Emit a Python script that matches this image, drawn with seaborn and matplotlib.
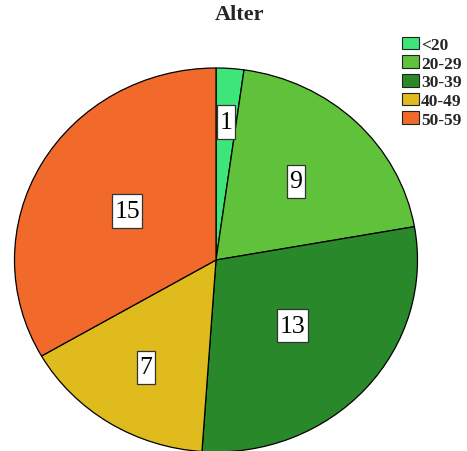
import matplotlib
matplotlib.use("Agg")
import matplotlib.pyplot as plt
import seaborn as sns
import numpy as np
from matplotlib.patches import Patch
from matplotlib.path import Path

sns.set_theme(style="white")
plt.rcParams["font.family"] = ["Liberation Serif", "DejaVu Serif"]

# Age groups and counts
categories = ["<20", "20-29", "30-39", "40-49", "50-59"]
counts = [1, 9, 13, 7, 15]
colors = ["#3ee67a", "#60c23a", "#29892a", "#dfbb1e", "#f2692c"]
# radial placement of each count label (fraction of radius)
label_radius = [0.72, 0.57, 0.51, 0.66, 0.51]

W, H = 467, 452
fig = plt.figure(figsize=(W / 100, H / 100), dpi=100)

# pie area in pixel terms: centre (216, 261), radii 201.5 x 192
cx, cy, rx, ry = 216, 261, 201.5, 192
ax = fig.add_axes([(cx - rx) / W, 1 - (cy + ry) / H, 2 * rx / W, 2 * ry / H])

wedges, _ = ax.pie(
    counts,
    colors=colors,
    startangle=90,
    counterclock=False,
    radius=1,
    wedgeprops=dict(edgecolor="black", linewidth=0.9),
)
ax.set_aspect("auto")
ax.set_xlim(-1, 1)
ax.set_ylim(-1, 1)
ax.axis("off")


def label_box(x0, y0, width, height, mutation_size):
    """Tall rectangle: narrow side padding, fixed height from font size."""
    padx = 0.1 * mutation_size
    h = 1.3 * mutation_size
    ym = y0 + height / 2
    x1, x2 = x0 - padx, x0 + width + padx
    y1, y2 = ym - h / 2, ym + h / 2
    return Path([(x1, y1), (x2, y1), (x2, y2), (x1, y2), (x1, y1)],
                closed=True)


for w, r, n in zip(wedges, label_radius, counts):
    mid = np.deg2rad((w.theta1 + w.theta2) / 2)
    ax.text(
        r * np.cos(mid), r * np.sin(mid), str(n),
        ha="center", va="center", fontsize=18.5, color="black",
        bbox=dict(boxstyle=label_box, facecolor="white",
                  edgecolor="#333333", linewidth=0.9),
    )

fig.text(240 / W, 1 - 15 / H, "Alter", ha="center", va="center",
         fontsize=16, fontweight="bold")

handles = [Patch(facecolor=c, edgecolor="#222222", linewidth=0.8) for c in colors]
fig.legend(
    handles, categories,
    loc="upper left", bbox_to_anchor=(400 / W, 1 - 36 / H),
    frameon=False, prop=dict(weight="bold", size=12.5),
    handlelength=1.0, handleheight=0.75, handletextpad=0.1,
    labelspacing=0.13, borderaxespad=0, borderpad=0.1,
)

fig.savefig("out.png", dpi=100, facecolor="white")
